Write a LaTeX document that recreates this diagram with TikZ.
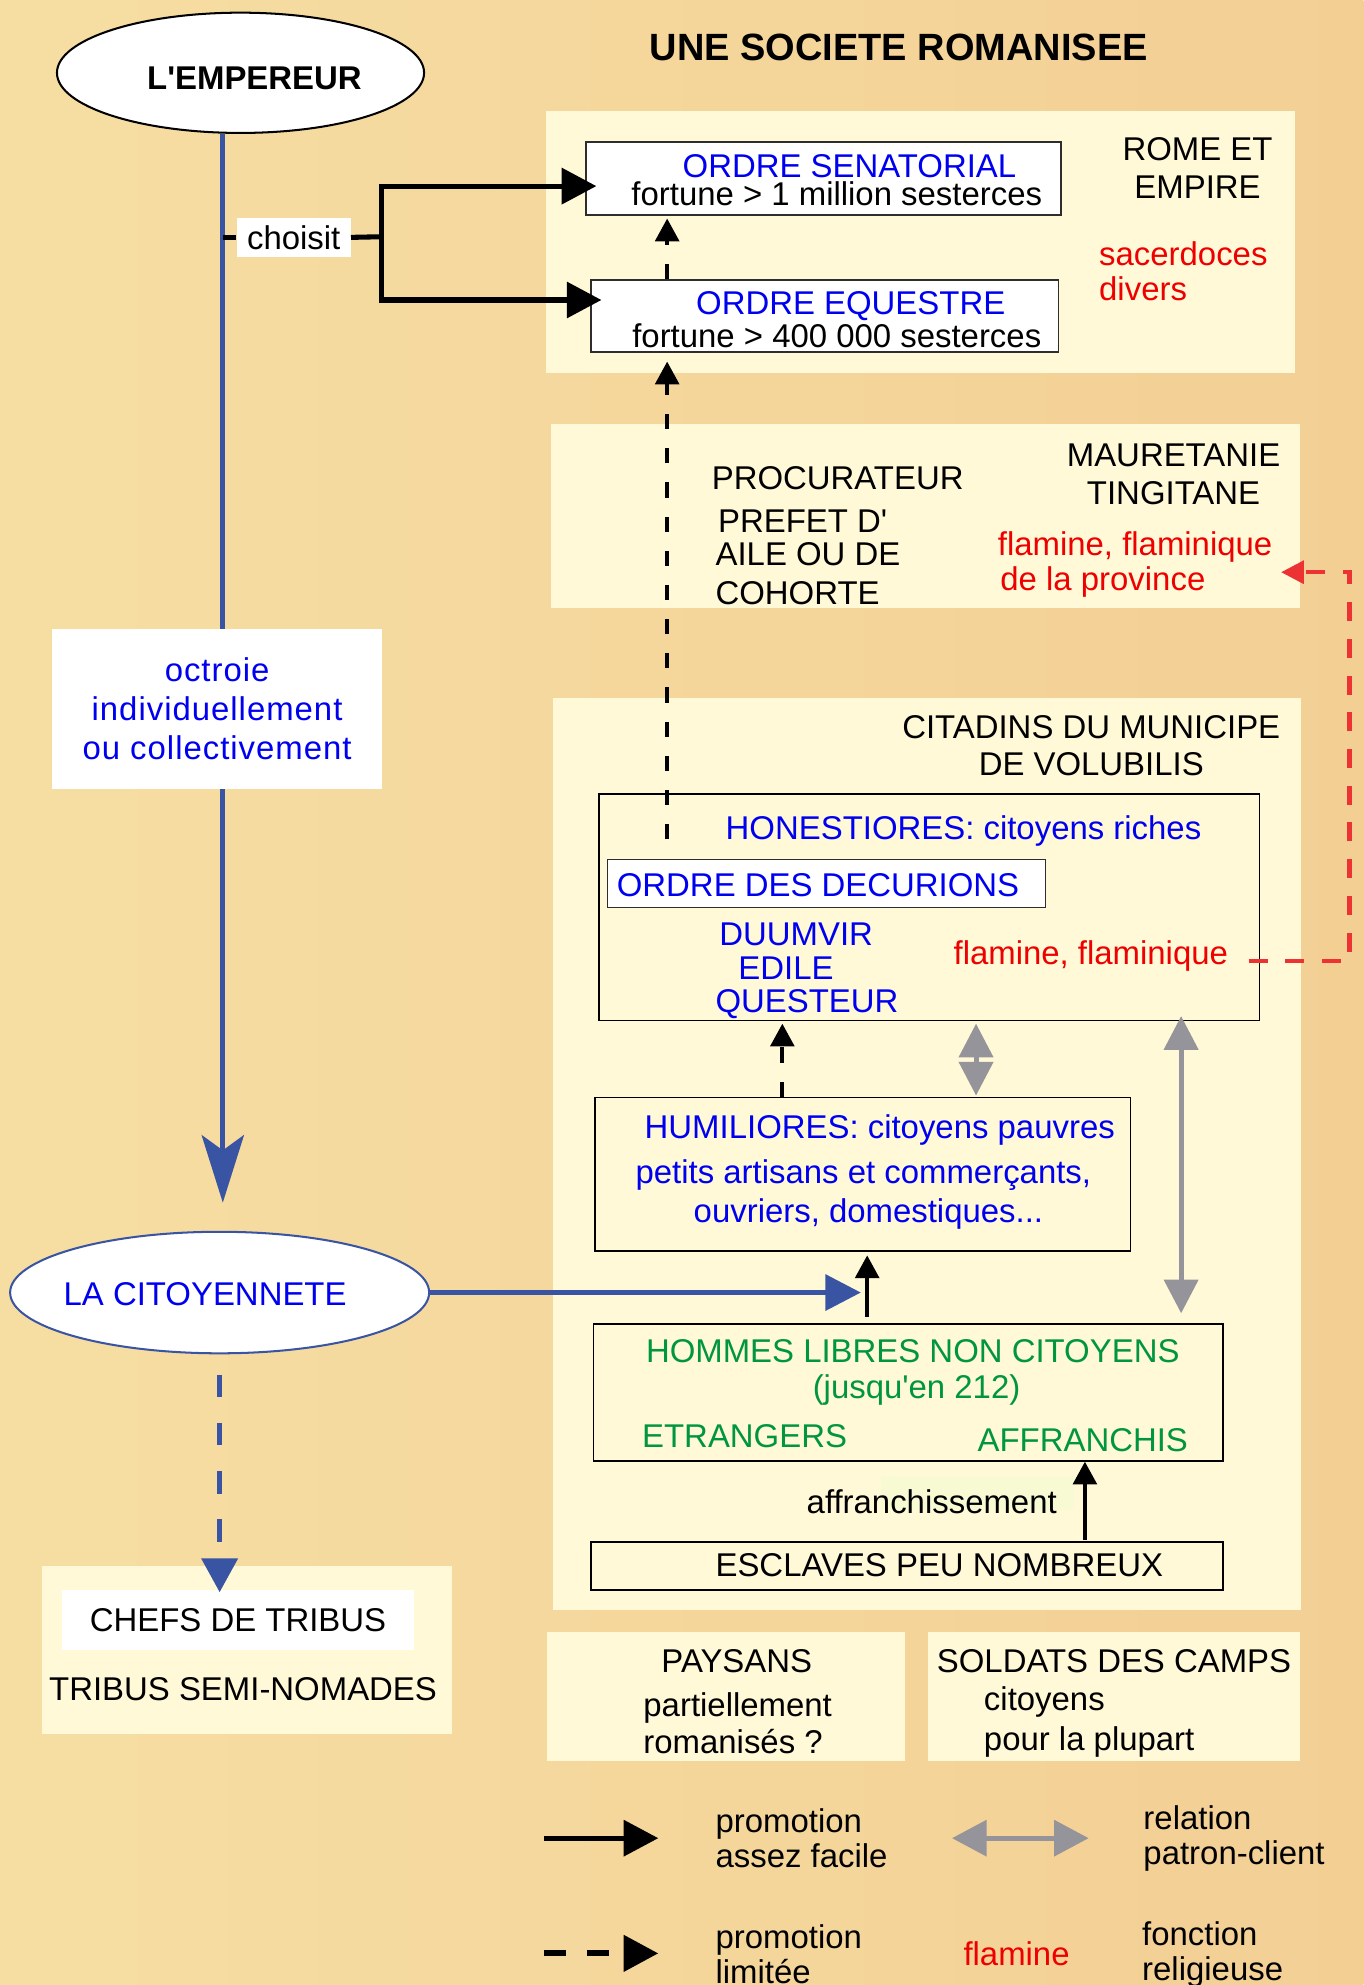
\documentclass[tikz,border=0pt]{standalone}
\usepackage{fontspec}
\setmainfont{Liberation Sans}
\usepackage{tikz}
\usetikzlibrary{arrows.meta,shapes.geometric}

\definecolor{fondg}{RGB}{246,222,163}
\definecolor{fondd}{RGB}{243,207,148}
\definecolor{clair}{RGB}{255,249,215}
\definecolor{clairv}{RGB}{248,250,212}
\definecolor{bleut}{RGB}{0,0,240}
\definecolor{rouget}{RGB}{238,0,0}
\definecolor{vertt}{RGB}{0,150,62}
\definecolor{bleul}{RGB}{58,84,164}
\definecolor{grisl}{RGB}{148,148,154}
\definecolor{rougel}{RGB}{236,50,50}
\definecolor{bord}{RGB}{45,45,45}

\begin{document}
\begin{tikzpicture}[x=0.75pt,y=0.75pt,yscale=-1,xscale=1,
  txt/.style={font=\fontsize{19.5}{23}\selectfont,inner sep=0pt,text height=14.25pt,text depth=0pt},
  boite/.style={draw=bord,fill=white,line width=0.9pt,inner sep=0pt},
  cadre/.style={draw=black,line width=0.9pt,inner sep=0pt},
  fleche/.style={line width=3pt,-{Triangle[length=20.5pt,width=21pt]}},
  petite/.style={line width=2.4pt,-{Triangle[length=13.5pt,width=14pt]}},
  tirets/.style={petite,dash pattern=on 9pt off 11.25pt},
  gris/.style={draw=grisl,line width=3pt,{Triangle[length=20pt,width=20pt]}-{Triangle[length=20pt,width=20pt]}},
  rouges/.style={draw=rougel,line width=2.4pt,dash pattern=on 11.25pt off 10.5pt,-{Triangle[length=13.5pt,width=13.5pt]}},
  bleus/.style={draw=bleul,line width=3.2pt,dash pattern=on 13.5pt off 15pt,-{Triangle[length=20pt,width=21pt]}}]
%uncomment if require: \path (0,1568); %set diagram left start at 0, and has height of 1568
\useasboundingbox (0,0) rectangle (1077,1568);
\shade[left color=fondg,right color=fondd] (0,0) rectangle (1077,1568);

%Shape: Rectangle [panneaux]
\fill[clair] (431,88) rectangle (1023,295);
\fill[clair] (435,335) rectangle (1027,480);
\fill[clair] (437,551) rectangle (1028,1272);
\fill[clair] (33,1237) rectangle (357,1370);
\fill[clair] (432,1289) rectangle (715,1391);
\fill[clair] (733,1289) rectangle (1027,1391);
\fill[clairv] (696,1166) rectangle (848,1193);

%Shape: Ellipse [emp]
\node[ellipse,draw=black,fill=white,line width=1.2pt,minimum width=217.5pt,minimum height=71.25pt,inner sep=0pt] (emp) at (190,57.5) {};
%Shape: Ellipse [cit]
\node[ellipse,draw=bleul,fill=white,line width=1.2pt,minimum width=248.25pt,minimum height=72pt,inner sep=0pt] (cit) at (173.5,1021) {};

%Shape: Rectangle [boites]
\node[boite,minimum width=281.25pt,minimum height=43.5pt] (senat) at (650.5,141) {};
\node[boite,minimum width=276.75pt,minimum height=42.75pt] (eques) at (651.5,249.5) {};
\node[cadre,minimum width=391.5pt,minimum height=134.25pt] (hon) at (734,716.5) {};
\node[boite,minimum width=259.5pt,minimum height=28.5pt] (decur) at (653,698) {};
\node[cadre,minimum width=317.25pt,minimum height=90.75pt] (hum) at (681.5,927.5) {};
\node[cadre,minimum width=372.75pt,minimum height=81pt] (hom) at (717.5,1100) {};
\node[cadre,minimum width=374.25pt,minimum height=28.5pt] (esc) at (716.5,1237) {};
\node[fill=white,minimum width=208.5pt,minimum height=35.25pt,txt] (chefs) at (188,1279.5) {CHEFS DE TRIBUS};
\node[fill=white,minimum width=195.75pt,minimum height=94.5pt,inner sep=0pt,align=center,text=bleut,font=\fontsize{19.5}{23.25}\selectfont\addfontfeature{LetterSpace=3}] (octr) at (171.5,560) {octroie\\individuellement\\ou collectivement};
\node[fill=white,minimum width=67.5pt,minimum height=23.25pt,txt] (chois) at (232,187.5) {choisit};

% Text Node
\node[txt,font=\fontsize{22.5}{27}\selectfont\bfseries,text height=16.5pt] (titre) at (710,37) {UNE SOCIETE ROMANISEE};
\node[txt,font=\fontsize{19.5}{23}\selectfont\bfseries] (empt) at (201,61) {L\textquotesingle EMPEREUR};
\node[txt,text=bleut] (citt) at (162,1022) {LA CITOYENNETE};
% Text Node
\node[txt,text=bleut] (senat1) at (671,131) {ORDRE SENATORIAL};
\node[txt] (senat2) at (661,153) {fortune > 1 million sesterces};
% Text Node
\node[txt,text=bleut] (eques1) at (672,239) {ORDRE EQUESTRE};
\node[txt] (eques2) at (661,265) {fortune > 400 000 sesterces};
% Text Node
\node[txt] (rome1) at (946,117) {ROME ET};
\node[txt] (rome2) at (946,147) {EMPIRE};
\node[txt,text=rouget,anchor=west] (sacer1) at (868,200) {sacerdoces};
\node[txt,text=rouget,anchor=west] (sacer2) at (868,228) {divers};
% Text Node
\node[txt] (maur1) at (927,359) {MAURETANIE};
\node[txt] (maur2) at (927,389) {TINGITANE};
\node[txt,anchor=west] (procu) at (562,377) {PROCURATEUR};
\node[txt,anchor=west] (pref) at (567,411) {PREFET D\textquotesingle};
\node[txt,anchor=west] (aile) at (565,437) {AILE OU DE};
\node[txt,anchor=west] (coh) at (565,468) {COHORTE};
\node[txt,text=rouget,anchor=west] (flp1) at (788,429) {flamine, flaminique};
\node[txt,text=rouget,anchor=west] (flp2) at (790,457) {de la province};
% Text Node
\node[txt] (cita1) at (862,574) {CITADINS DU MUNICIPE};
\node[txt] (cita2) at (862,603) {DE VOLUBILIS};
\node[txt,text=bleut,anchor=west] (hon1) at (573,654) {HONESTIORES: citoyens riches};
\node[txt,text=bleut,anchor=west] (decur1) at (487,699) {ORDRE DES DECURIONS};
\node[txt,text=bleut,anchor=west] (duum) at (568,737) {DUUMVIR};
\node[txt,text=bleut,anchor=west] (edile) at (583,764) {EDILE};
\node[txt,text=bleut,anchor=west] (ques) at (565,790) {QUESTEUR};
\node[txt,text=rouget,anchor=west] (flm) at (753,752) {flamine, flaminique};
% Text Node
\node[txt,text=bleut,anchor=west] (hum1) at (509,890) {HUMILIORES: citoyens pauvres};
\node[txt,text=bleut] (hum2) at (682,925) {petits artisans et commerçants,};
\node[txt,text=bleut] (hum3) at (686,956) {ouvriers, domestiques...};
% Text Node
\node[txt,text=vertt] (hom1) at (721,1067) {HOMMES LIBRES NON CITOYENS};
\node[txt,text=vertt] (hom2) at (724,1095) {(jusqu\textquotesingle en 212)};
\node[txt,text=vertt,anchor=west] (etr) at (507,1134) {ETRANGERS};
\node[txt,text=vertt,anchor=west] (affr) at (772,1137) {AFFRANCHIS};
\node[txt] (affch) at (736,1186) {affranchissement};
\node[txt] (esc1) at (742,1236) {ESCLAVES PEU NOMBREUX};
% Text Node
\node[txt] (tribus) at (192,1334) {TRIBUS SEMI-NOMADES};
\node[txt] (pays1) at (582,1312) {PAYSANS};
\node[txt,anchor=west] (pays2) at (508,1346) {partiellement};
\node[txt,anchor=west] (pays3) at (508,1376) {romanisés ?};
\node[txt] (sold1) at (880,1312) {SOLDATS DES CAMPS};
\node[txt,anchor=west] (sold2) at (777,1342) {citoyens};
\node[txt,anchor=west] (sold3) at (777,1373) {pour la plupart};

%Straight Lines [coordonnees libres]
\coordinate (citin) at (176,950);
\coordinate (fourche) at (301,187);
\coordinate (honup) at (527,663);
\coordinate (hx) at (618,0);
\coordinate (gx1) at (771,0);
\coordinate (gx2) at (933,0);
\coordinate (ax) at (685,0);
\coordinate (ex) at (857,0);
\coordinate (rcoin) at (1066,452);
\coordinate (rpointe) at (1012,452);

%Straight Lines [empereur -> citoyennete]
\draw[draw=bleul,line width=2.8pt] (emp.south -| citin) -- (octr.north -| citin);
\draw[draw=bleul,line width=2.8pt,-{Stealth[length=40pt,width=25pt,inset=9pt]}] (octr.south -| citin) -- (citin);
%Straight Lines [choisit]
\draw[line width=3pt] (chois.west -| citin) -- (chois.west);
\draw[line width=3pt] (chois.east) -- (fourche);
\draw[fleche,shorten >=-6.5pt] (fourche) |- ([yshift=4.5pt]senat.west);
\draw[fleche,shorten >=-6.5pt] (fourche) |- ([yshift=-9.4pt]eques.west);
%Straight Lines [promotions]
\draw[tirets,shorten >=1.5pt] (eques.north -| honup) -- (senat.south -| honup);
\draw[tirets,shorten >=5.25pt] (honup) -- (eques.south -| honup);
\draw[tirets,shorten >=1.5pt] (hum.north -| hx) -- (hon.south -| hx);
\draw[gris,shorten <=0.75pt,shorten >=1.5pt] (hum.north -| gx1) -- (hon.south -| gx1);
\draw[gris,shorten <=6pt,shorten >=-3pt] (hom.north -| gx2) -- (hon.south -| gx2);
\draw[draw=bleul,line width=3pt,-{Triangle[length=21pt,width=21pt]},shorten >=3.75pt] (cit.east) -- (cit.east -| ax);
\draw[petite,shorten <=3.75pt,shorten >=2.25pt] (hom.north -| ax) -- (hum.south -| ax);
\draw[petite,shorten <=0.75pt] (esc.north -| ex) -- (hom.south -| ex);
\draw[bleus,shorten <=12pt,shorten >=-1.5pt] (cit.south) -- (cit.south |- chefs.north);
\draw[rouges] ([xshift=12pt,yshift=5.25pt]flm.east) -| (rcoin) -- (rpointe);

%Straight Lines [legende]
\coordinate (lg1) at (430,1452);
\coordinate (lg1b) at (520,1452);
\coordinate (lg2) at (752,1452);
\coordinate (lg2b) at (860,1452);
\coordinate (lg3) at (430,1543);
\coordinate (lg3b) at (520,1543);
\draw[fleche] (lg1) -- (lg1b);
\draw[gris,{Triangle[length=20.5pt,width=21pt]}-{Triangle[length=20.5pt,width=21pt]}] (lg2) -- (lg2b);
\draw[fleche,line width=3.6pt,dash pattern=on 12.75pt off 12.75pt] (lg3) -- (lg3b);

% Text Node
\node[txt,anchor=west] (leg1a) at (565,1438) {promotion};
\node[txt,anchor=west] (leg1b) at (565,1466) {assez facile};
\node[txt,anchor=west] (leg2a) at (903,1436) {relation};
\node[txt,anchor=west] (leg2b) at (903,1463) {patron-client};
\node[txt,anchor=west] (leg3a) at (565,1530) {promotion};
\node[txt,anchor=west] (leg3b) at (565,1557) {limitée};
\node[txt,text=rouget] (legfl) at (803,1543) {flamine};
\node[txt,anchor=west] (leg4a) at (902,1527) {fonction};
\node[txt,anchor=west] (leg4b) at (902,1555) {religieuse};

\end{tikzpicture}
\end{document}
